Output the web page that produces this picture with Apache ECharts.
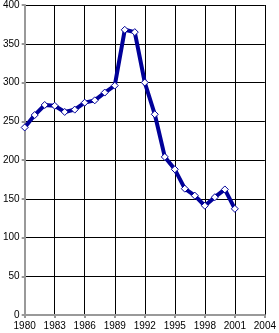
<!DOCTYPE html>
<html>
<head>
<meta charset="utf-8">
<script src="https://cdn.jsdelivr.net/npm/echarts@6/dist/echarts.min.js"></script>
<style>
  html, body { margin: 0; padding: 0; background: #fff; }
  #chart { width: 279px; height: 333px; }
</style>
</head>
<body>
<div id="chart"></div>
<script>
// chart data
var years = [1980, 1981, 1982, 1983, 1984, 1985, 1986, 1987, 1988, 1989, 1990,
  1991, 1992, 1993, 1994, 1995, 1996, 1997, 1998, 1999, 2000, 2001]
var values = [242, 258, 271, 270, 262, 265, 274, 277, 287, 296, 368,
  365, 300, 259, 204, 188, 163, 154, 141, 152, 162, 137]

var chart = echarts.init(document.getElementById('chart'))

var axisGray = '#999999'
var navy = '#000099'

chart.setOption({
  animation: false,
  grid: { left: 23, right: 10, top: 4, bottom: 18 },
  xAxis: {
    type: 'value',
    min: 1980,
    max: 2004,
    interval: 3,
    axisLine: { lineStyle: { color: axisGray, width: 2 } },
    axisTick: { show: true, length: 3, lineStyle: { color: axisGray, width: 2 } },
    axisLabel: {
      color: '#000', fontFamily: 'Liberation Sans', fontSize: 10, margin: 6,
      formatter: function (v) { return String(v) }
    },
    splitLine: { show: true, lineStyle: { color: '#000', width: 1 } }
  },
  yAxis: {
    type: 'value',
    min: 0,
    max: 400,
    interval: 50,
    axisLine: { show: true, lineStyle: { color: axisGray, width: 2 } },
    axisTick: { show: true, length: 3, lineStyle: { color: axisGray, width: 2 } },
    axisLabel: { color: '#000', fontFamily: 'Liberation Sans', fontSize: 10, margin: 5 },
    splitLine: { show: true, lineStyle: { color: '#000', width: 1 } }
  },
  series: [{
    type: 'line',
    data: years.map(function (y, i) { return [y, values[i]] }),
    symbol: 'diamond',
    symbolSize: 7,
    showAllSymbol: true,
    lineStyle: { color: navy, width: 4 },
    itemStyle: { color: '#fff', borderColor: navy, borderWidth: 1 }
  }]
})
</script>
</body>
</html>
